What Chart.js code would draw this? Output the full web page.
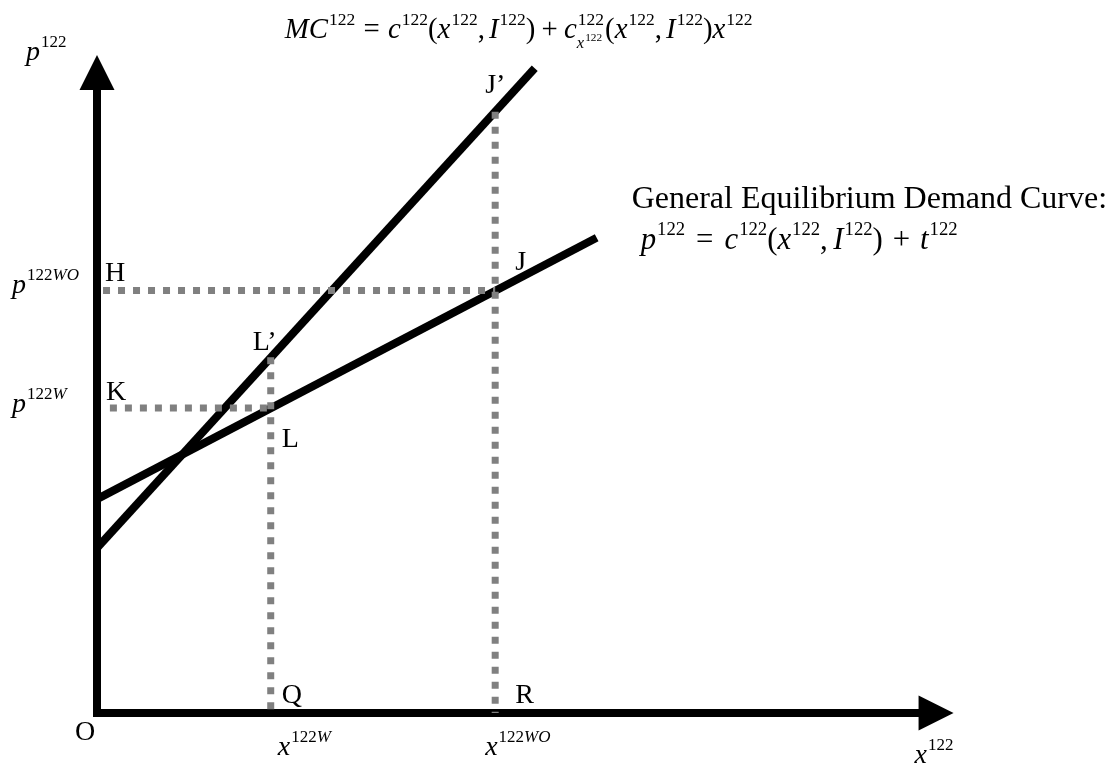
<!DOCTYPE html>
<html>
<head>
<meta charset="utf-8">
<script src="https://cdn.jsdelivr.net/npm/chart.js@4.4.1/dist/chart.umd.min.js"></script>
<style>
  html, body { margin: 0; padding: 0; background: #fff; }
  #wrap { width: 1116px; height: 769px; }
</style>
</head>
<body>
<div id="wrap"><canvas id="chart" width="1116" height="769"></canvas></div>
<script>
// ─── Data (arbitrary quantity / price units, origin O = 0,0) ────────────────
const xW = 20.2;      // x^122W  -> Q
const xWO = 46.3;     // x^122WO -> R
const pW = 46.2;      // p^122W  -> K, L
const pWO = 64.0;     // p^122WO -> H, J
const mcAtW = 53.9;   // L'
const mcAtWO = 91.1;  // J'

// MC curve and general equilibrium demand curve (end points)
const mcX = [0, 50.9];
const mcY = [25.0, 97.7];
const demandX = [0, 58.1];
const demandY = [32.4, 72.0];

// axes (line part, arrow tips)
const xAxisLine = [0, 97];
const yAxisLine = [0, 96];
const xAxisTip = 99.6;
const yAxisTip = 99.7;

const SERIF = '"Liberation Serif", "Times New Roman", serif';
const GREY = '#808080';

function pts(xs, ys) {
  return xs.map((x, i) => ({ x, y: ys[i] }));
}

function seg(data, color, width, dash, cap) {
  return {
    data,
    showLine: true,
    borderColor: color,
    borderWidth: width,
    borderDash: dash || [],
    borderCapStyle: cap || 'butt',
    pointRadius: 0,
    clip: false,
    tension: 0,
  };
}

// ─── Rich text (Word-equation style: italic letters, raised indices) ───────
const F = { main: 28, sup: 17, sub: 16, subsup: 11, raise: 13 };

function font(size, italic) {
  return (italic ? 'italic ' : '') + size + 'px ' + SERIF;
}

// parts: [text, kind]; kind: i = italic, r = roman, S = roman sup,
// Si = italic sup, g = gap (px), stack = sup 122 over sub x^122
function drawRich(ctx, x, y, parts, s = 1) {
  let cx = x;
  ctx.textBaseline = 'alphabetic';
  ctx.textAlign = 'left';
  parts.forEach(([t, k]) => {
    if (k === 'g') { cx += t * s; return; }
    if (k === 'stack') {
      ctx.font = font(F.sup * s, false);
      ctx.fillText('122', cx + 1, y - F.raise * s);
      const w1 = ctx.measureText('122').width;
      ctx.font = font(F.sub * s, true);
      ctx.fillText('x', cx, y + 10 * s);
      const wx = ctx.measureText('x').width;
      ctx.font = font(F.subsup * s, false);
      ctx.fillText('122', cx + wx + 1, y + 3 * s);
      const w2 = wx + 1 + ctx.measureText('122').width;
      cx += Math.max(w1 + 1, w2) + 1;
      return;
    }
    let size = F.main, italic = false, dy = 0;
    if (k === 'i') italic = true;
    if (k === 'S') { size = F.sup; dy = -F.raise; cx += 1; }
    if (k === 'Si') { size = F.sup; italic = true; dy = -F.raise; }
    ctx.font = font(size * s, italic);
    ctx.fillText(t, cx, y + dy * s);
    cx += ctx.measureText(t).width;
  });
  return cx;
}

const sup122 = ['122', 'S'];
const formulaMC = [
  ['MC', 'i'], sup122, [8, 'g'], ['=', 'r'], [8, 'g'],
  ['c', 'i'], sup122, ['(', 'r'], ['x', 'i'], sup122, [',', 'r'], [4, 'g'],
  ['I', 'i'], sup122, [')', 'r'], [6, 'g'], ['+', 'r'], [6, 'g'],
  ['c', 'i'], ['', 'stack'], ['(', 'r'], ['x', 'i'], sup122, [',', 'r'], [4, 'g'],
  ['I', 'i'], sup122, [')', 'r'], ['x', 'i'], sup122,
];
const formulaDemand = [
  ['p', 'i'], sup122, [10, 'g'], ['=', 'r'], [10, 'g'],
  ['c', 'i'], sup122, ['(', 'r'], ['x', 'i'], sup122, [',', 'r'], [5, 'g'],
  ['I', 'i'], sup122, [')', 'r'], [9, 'g'], ['+', 'r'], [9, 'g'],
  ['t', 'i'], sup122,
];

// labels anchored on data points, offsets in px
const labels = [
  { at: [0, 0], dx: -22, dy: 27, parts: [['O', 'r']] },
  { at: [xW, 0], dx: 11, dy: -10, parts: [['Q', 'r']] },
  { at: [xWO, 0], dx: 20, dy: -10, parts: [['R', 'r']] },
  { at: [0, pWO], dx: 8, dy: -10, parts: [['H', 'r']] },
  { at: [0, pW], dx: 9, dy: -8, parts: [['K', 'r']] },
  { at: [xW, mcAtW], dx: -18, dy: -7, parts: [['L\u2019', 'r']] },
  { at: [xW, pW], dx: 11, dy: 39, parts: [['L', 'r']] },
  { at: [xWO, mcAtWO], dx: -10, dy: -19, parts: [['J\u2019', 'r']] },
  { at: [xWO, pWO], dx: 20, dy: -21, parts: [['J', 'r']] },
  { at: [0, pWO], dx: -85, dy: 2, parts: [['p', 'i'], ['122', 'S'], ['WO', 'Si']] },
  { at: [0, pW], dx: -85, dy: 4, parts: [['p', 'i'], ['122', 'S'], ['W', 'Si']] },
  { at: [xW, 0], dx: 7, dy: 42, parts: [['x', 'i'], ['122', 'S'], ['W', 'Si']] },
  { at: [xWO, 0], dx: -10, dy: 42, parts: [['x', 'i'], ['122', 'S'], ['WO', 'Si']] },
  { at: [xAxisTip, 0], dx: -39, dy: 50, parts: [['x', 'i'], sup122] },
  { at: [0, yAxisTip], dx: -71, dy: 5, parts: [['p', 'i'], sup122] },
];

const arrowHeads = {
  id: 'arrowHeads',
  afterDatasetsDraw(chart) {
    const { ctx, scales: { x, y } } = chart;
    const len = 35, half = 17.5;
    ctx.save();
    ctx.fillStyle = '#000';
    // x axis arrow
    let tx = x.getPixelForValue(xAxisTip), ty = y.getPixelForValue(0);
    ctx.beginPath();
    ctx.moveTo(tx, ty);
    ctx.lineTo(tx - len, ty - half);
    ctx.lineTo(tx - len, ty + half);
    ctx.closePath();
    ctx.fill();
    // y axis arrow
    tx = x.getPixelForValue(0); ty = y.getPixelForValue(yAxisTip);
    ctx.beginPath();
    ctx.moveTo(tx, ty);
    ctx.lineTo(tx - half, ty + len);
    ctx.lineTo(tx + half, ty + len);
    ctx.closePath();
    ctx.fill();
    ctx.restore();
  },
};

const textLabels = {
  id: 'textLabels',
  afterDraw(chart) {
    const { ctx, scales: { x, y } } = chart;
    ctx.save();
    ctx.fillStyle = '#000';
    labels.forEach(l => {
      drawRich(ctx, x.getPixelForValue(l.at[0]) + l.dx, y.getPixelForValue(l.at[1]) + l.dy, l.parts);
    });
    // curve captions
    const mcEnd = [x.getPixelForValue(mcX[1]), y.getPixelForValue(mcY[1])];
    drawRich(ctx, mcEnd[0] - 250, mcEnd[1] - 30, formulaMC, 1.03);
    const dEnd = [x.getPixelForValue(demandX[1]), y.getPixelForValue(demandY[1])];
    ctx.font = '32px ' + SERIF;
    ctx.fillText('General Equilibrium Demand Curve:', dEnd[0] + 35, dEnd[1] - 30);
    drawRich(ctx, dEnd[0] + 44, dEnd[1] + 11, formulaDemand, 1.1);
    ctx.restore();
  },
};

new Chart(document.getElementById('chart'), {
  type: 'scatter',
  data: {
    datasets: [
      // dotted guides (drawn on top of the curves)
      seg(pts([0.7, xWO], [pWO, pWO]), GREY, 7, [7, 8]),
      seg(pts([1.5, xW], [pW, pW]), GREY, 7, [7, 8]),
      seg(pts([xWO, xWO], [mcAtWO, 0]), GREY, 7, [7, 8]),
      seg(pts([xW, xW], [mcAtW, 0]), GREY, 7, [7, 8]),
      // curves
      seg(pts(mcX, mcY), '#000', 8),
      seg(pts(demandX, demandY), '#000', 8),
      // axes
      seg(pts([0, 0], yAxisLine), '#000', 8, null, 'square'),
      seg(pts(xAxisLine, [0, 0]), '#000', 8, null, 'square'),
    ],
  },
  options: {
    responsive: false,
    animation: false,
    devicePixelRatio: 1,
    layout: { padding: { left: 97, right: 159, top: 53, bottom: 56 } },
    plugins: { legend: { display: false }, tooltip: { enabled: false } },
    scales: {
      x: { type: 'linear', min: 0, max: 100, display: false },
      y: { type: 'linear', min: 0, max: 100, display: false },
    },
  },
  plugins: [arrowHeads, textLabels],
});
</script>
</body>
</html>
